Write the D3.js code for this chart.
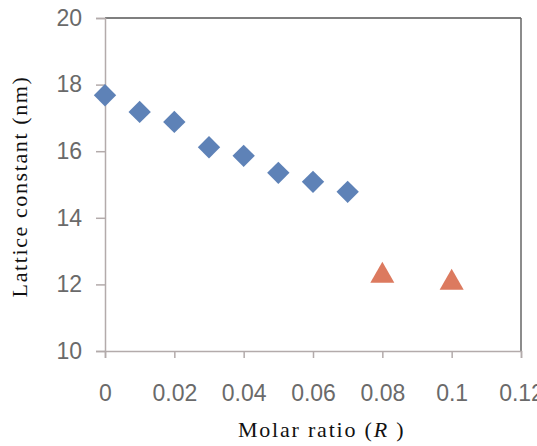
<!DOCTYPE html>
<html>
<head>
<meta charset="utf-8">
<script src="https://cdn.jsdelivr.net/npm/d3@7"></script>
<style>
  body { margin: 0; background: #fff; overflow: hidden; }
</style>
</head>
<body>
<div id="chart-area"></div>
<script>
// series
var diamond_x = [0, 0.01, 0.02, 0.03, 0.04, 0.05, 0.06, 0.07];
var diamond_y = [17.68, 17.18, 16.88, 16.12, 15.86, 15.35, 15.08, 14.78];
var triangle_x = [0.08, 0.1];
var triangle_y = [12.26, 12.05];
var x_ticks = [0, 0.02, 0.04, 0.06, 0.08, 0.1, 0.12];
var x_tick_labels = ["0", "0.02", "0.04", "0.06", "0.08", "0.1", "0.12"];
var y_ticks = [10, 12, 14, 16, 18, 20];

var total_width = 537;
var total_height = 446;
var margin = {top:18, right:16, bottom:95, left:105};
var width = total_width - margin.left - margin.right;
var height = total_height - margin.top - margin.bottom;

var svg = d3.select('#chart-area').append('svg')
            .attr("width", total_width)
            .attr("height", total_height);

var plot = svg.append('g')
              .attr("transform", "translate(" + margin.left + "," + margin.top + ")");

var x = d3.scaleLinear().domain([0, 0.12]).range([0, width]);
var y = d3.scaleLinear().domain([10, 20]).range([height, 0]);

// frame: dark top/right, lighter axes
plot.append("line")
    .attr("x1", 0).attr("y1", 0).attr("x2", width).attr("y2", 0)
    .style("stroke", "#555").style("stroke-width", 1.5);
plot.append("line")
    .attr("x1", width).attr("y1", 0).attr("x2", width).attr("y2", height)
    .style("stroke", "#666").style("stroke-width", 1.5);

var yAxis = d3.axisLeft(y).tickValues(y_ticks).tickSize(9).tickPadding(14);
var xAxis = d3.axisBottom(x).tickValues(x_ticks).tickSize(7).tickPadding(27)
              .tickFormat(function(d, i){ return x_tick_labels[i]; });

var gy = plot.append("g").call(yAxis);
var gx = plot.append("g").attr("transform", "translate(0," + height + ")").call(xAxis);

[gy, gx].forEach(function(g){
  g.select(".domain").style("stroke", "#b3abab").style("stroke-width", 1.5);
  g.selectAll(".tick line").style("stroke", "#b3abab").style("stroke-width", 1.5);
  g.selectAll(".tick text")
   .style("font-family", "Arial, 'Liberation Sans', sans-serif")
   .style("font-size", "23px")
   .style("fill", "#6a6a6a");
});

// diamonds
var diamond = d3.symbol().type(d3.symbolSquare).size(250);
plot.selectAll(".dia")
    .data(diamond_x)
    .enter().append("path")
    .attr("class", "dia")
    .attr("d", diamond)
    .attr("transform", function(d, i){
      return "translate(" + x(d) + "," + y(diamond_y[i]) + ") rotate(45)";
    })
    .style("fill", "#5e82b7");

// triangles
var tri = d3.symbol().type(d3.symbolTriangle).size(250);
plot.selectAll(".tri")
    .data(triangle_x)
    .enter().append("path")
    .attr("class", "tri")
    .attr("d", tri)
    .attr("transform", function(d, i){
      return "translate(" + x(d) + "," + y(triangle_y[i]) + ")";
    })
    .style("fill", "#dc7a5f");

// axis titles
plot.append("text")
    .attr("transform", "translate(" + (-78) + "," + (height/2 + 2) + ") rotate(-90)")
    .style("text-anchor", "middle")
    .style("font-family", "'Liberation Serif', 'Times New Roman', serif")
    .style("font-size", "22px")
    .style("letter-spacing", "1.6px")
    .style("fill", "#111")
    .text("Lattice constant (nm)");

var xt = plot.append("text")
    .attr("x", x(0.0625))
    .attr("y", height + 86)
    .style("text-anchor", "middle")
    .style("font-family", "'Liberation Serif', 'Times New Roman', serif")
    .style("font-size", "22px")
    .style("letter-spacing", "1.8px")
    .style("fill", "#111");
xt.append("tspan").text("Molar ratio (");
xt.append("tspan").style("font-style", "italic").text("R");
xt.append("tspan").text(" )");
</script>
</body>
</html>
